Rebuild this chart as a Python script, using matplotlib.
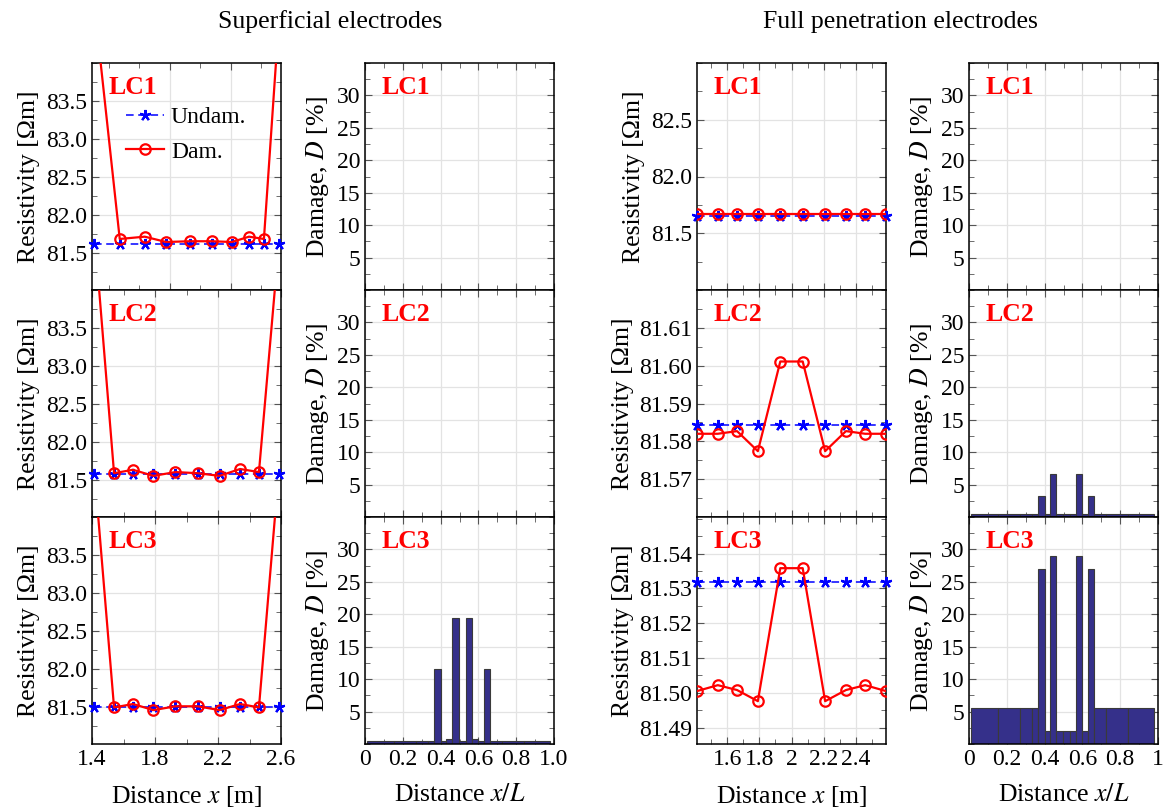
import numpy as np
import matplotlib
matplotlib.use("Agg")
import matplotlib.pyplot as plt
from matplotlib.ticker import MultipleLocator, FixedLocator, FixedFormatter

plt.rcParams['font.family'] = 'serif'
plt.rcParams['font.serif'] = ['Liberation Serif', 'DejaVu Serif']
plt.rcParams['mathtext.fontset'] = 'stix'

# ---- superficial electrodes: resistivity [Ohm m] ----
x_sup_lc1 = [1.303, 1.472, 1.636, 1.777, 1.931, 2.077, 2.208, 2.320, 2.418, 2.516]
undam_sup_lc1 = [81.63, 81.63, 81.63, 81.63, 81.63, 81.63, 81.63, 81.63, 81.63, 81.63]
dam_sup_lc1 = [84.81, 81.69, 81.72, 81.65, 81.66, 81.66, 81.65, 81.72, 81.69, 84.56]

x_el = [1.41, 1.54, 1.66, 1.79, 1.93, 2.07, 2.21, 2.34, 2.46, 2.59]
undam_sup_lc2 = [81.58, 81.58, 81.58, 81.58, 81.58, 81.58, 81.58, 81.58, 81.58, 81.58]
dam_sup_lc2 = [84.9, 81.595, 81.64, 81.56, 81.61, 81.595, 81.56, 81.65, 81.61, 84.7]
undam_sup_lc3 = [81.51, 81.51, 81.51, 81.51, 81.51, 81.51, 81.51, 81.51, 81.51, 81.51]
dam_sup_lc3 = [84.74, 81.50, 81.545, 81.465, 81.515, 81.515, 81.465, 81.545, 81.50, 84.7]

# ---- full penetration electrodes ----
undam_full_lc1 = [81.65, 81.65, 81.65, 81.65, 81.65, 81.65, 81.65, 81.65, 81.65, 81.65]
dam_full_lc1 = [81.668, 81.668, 81.668, 81.668, 81.668, 81.668, 81.668, 81.668, 81.668, 81.668]
undam_full_lc2 = [81.5842, 81.5842, 81.5842, 81.5842, 81.5842, 81.5842, 81.5842, 81.5842, 81.5842, 81.5842]
dam_full_lc2 = [81.582, 81.582, 81.5827, 81.5774, 81.6011, 81.6011, 81.5774, 81.5827, 81.582, 81.582]
undam_full_lc3 = [81.5319, 81.5319, 81.5319, 81.5319, 81.5319, 81.5319, 81.5319, 81.5319, 81.5319, 81.5319]
dam_full_lc3 = [81.5005, 81.5022, 81.5008, 81.4976, 81.5358, 81.5358, 81.4976, 81.5008, 81.5022, 81.5005]

# ---- damage distributions [%] on mesh elements (x/L) ----
mesh_edges = [0.012, 0.153, 0.268, 0.335, 0.365, 0.400, 0.430, 0.461, 0.498,
              0.532, 0.567, 0.600, 0.630, 0.663, 0.727, 0.841, 0.980]
dmg_sup_lc3 = [0.5, 0.5, 0.5, 0.5, 11.6, 0.5, 0.8, 19.4, 0.5, 19.4, 0.8, 0.5, 11.6, 0.5, 0.5, 0.5]
dmg_full_lc2 = [0.4, 0.4, 0.4, 0.4, 3.2, 0.4, 6.6, 0.4, 0.4, 0.4, 6.6, 0.4, 3.2, 0.4, 0.4, 0.4]
dmg_full_lc3 = [5.5, 5.5, 5.5, 5.6, 27.0, 2.0, 29.0, 2.0, 2.0, 2.0, 29.0, 2.0, 27.0, 5.5, 5.5, 5.5]

W, H = 1163, 810
fig = plt.figure(figsize=(W / 100, H / 100), dpi=100)

col_left = [92, 365, 697, 969]
col_w = 189
row_top = [63, 290, 517]
row_h = 227

TICK = 17
LAB = 18.5
BAR_C = '#35308a'


def make_ax(c, r):
    x0 = col_left[c] / W
    y0 = 1 - (row_top[r] + row_h) / H
    ax = fig.add_axes([x0, y0, col_w / W, row_h / H])
    ax.grid(True, which='major', color='#e3e3e3', lw=0.9, zorder=0)
    ax.set_axisbelow(True)
    ax.tick_params(which='both', direction='in', top=True, right=True,
                   color='#555555', labelsize=TICK)
    ax.tick_params(which='major', length=5)
    ax.tick_params(which='minor', length=3.5)
    for s in ax.spines.values():
        s.set_linewidth(1.1)
    return ax


def lc_label(ax, txt):
    ax.text(0.085, 0.89, txt, transform=ax.transAxes, color='red',
            fontsize=18.5, fontweight='bold', va='center', ha='left', zorder=5)


def res_lines(ax, x, und, dam):
    ax.plot(x, und, color='blue', ls=(0, (5, 3)), lw=1.1, marker=(5, 2, 0),
            ms=8, mew=1.6, label='Undam.', zorder=3, clip_on=False)
    ax.plot(x, dam, color='red', lw=1.6, marker='o', ms=7.5, mfc='none',
            mew=1.6, label='Dam.', zorder=4)


# superficial resistivity column
sup_sets = [(x_sup_lc1, undam_sup_lc1, dam_sup_lc1),
            (x_el, undam_sup_lc2, dam_sup_lc2),
            (x_el, undam_sup_lc3, dam_sup_lc3)]
for r in range(3):
    ax = make_ax(0, r)
    x, und, dam = sup_sets[r]
    res_lines(ax, x, und, dam)
    ax.set_ylim(81.02, 84.0)
    ax.yaxis.set_major_locator(FixedLocator([81.5, 82.0, 82.5, 83.0, 83.5]))
    ax.yaxis.set_major_formatter(FixedFormatter(['81.5', '82.0', '82.5', '83.0', '83.5']))
    ax.yaxis.set_minor_locator(MultipleLocator(0.25))
    if r == 0:
        ax.set_xlim(1.29, 2.53)
        ax.xaxis.set_major_locator(FixedLocator([1.8, 2.2]))
    else:
        ax.set_xlim(1.4, 2.6)
        ax.xaxis.set_major_locator(FixedLocator([1.4, 1.8, 2.2, 2.6]))
    ax.xaxis.set_minor_locator(MultipleLocator(0.2))
    ax.set_ylabel('Resistivity [Ωm]', fontsize=LAB)
    if r == 2:
        ax.set_xticklabels(['1.4', '1.8', '2.2', '2.6'])
        ax.set_xlabel('Distance $x$ [m]', fontsize=LAB, labelpad=10)
    else:
        ax.tick_params(labelbottom=False)
    lc_label(ax, 'LC%d' % (r + 1))
    if r == 0:
        ax.legend(loc='upper left', bbox_to_anchor=(0.13, 0.85), frameon=False,
                  fontsize=17, handlelength=1.6, handletextpad=0.3,
                  borderaxespad=0, labelspacing=0.55)

# full penetration resistivity column
full_sets = [(undam_full_lc1, dam_full_lc1, (81.0, 83.0), [81.5, 82.0, 82.5], 0.25, '%.1f'),
             (undam_full_lc2, dam_full_lc2, (81.56, 81.62), [81.57, 81.58, 81.59, 81.60, 81.61], 0.005, '%.2f'),
             (undam_full_lc3, dam_full_lc3, (81.4853, 81.5505), [81.49, 81.50, 81.51, 81.52, 81.53, 81.54], 0.005, '%.2f')]
for r in range(3):
    ax = make_ax(2, r)
    und, dam, yl, yt, ymin, fmt = full_sets[r]
    res_lines(ax, x_el, und, dam)
    ax.set_ylim(*yl)
    ax.yaxis.set_major_locator(FixedLocator(yt))
    ax.yaxis.set_major_formatter(FixedFormatter([fmt % v for v in yt]))
    ax.yaxis.set_minor_locator(MultipleLocator(ymin))
    ax.set_xlim(1.41, 2.59)
    ax.xaxis.set_major_locator(FixedLocator([1.6, 1.8, 2.0, 2.2, 2.4]))
    ax.xaxis.set_minor_locator(MultipleLocator(0.1))
    ax.set_ylabel('Resistivity [Ωm]', fontsize=LAB)
    if r == 2:
        ax.set_xticklabels(['1.6', '1.8', '2', '2.2', '2.4'])
        ax.set_xlabel('Distance $x$ [m]', fontsize=LAB, labelpad=10)
    else:
        ax.tick_params(labelbottom=False)
    lc_label(ax, 'LC%d' % (r + 1))

# damage columns
edges = np.array(mesh_edges)
widths = np.diff(edges)
dmg_cols = {1: [None, None, dmg_sup_lc3], 3: [None, dmg_full_lc2, dmg_full_lc3]}
for c, sets in dmg_cols.items():
    for r in range(3):
        ax = make_ax(c, r)
        if sets[r] is not None:
            ax.bar(edges[:-1], sets[r], width=widths, align='edge',
                   color=BAR_C, edgecolor='#3a3a3a', lw=0.8, zorder=2)
        ax.set_xlim(0, 1)
        ax.set_ylim(0, 35)
        ax.yaxis.set_major_locator(FixedLocator([5, 10, 15, 20, 25, 30]))
        ax.yaxis.set_minor_locator(MultipleLocator(2.5))
        ax.xaxis.set_major_locator(FixedLocator([0, 0.2, 0.4, 0.6, 0.8, 1.0]))
        ax.xaxis.set_minor_locator(MultipleLocator(0.1))
        ax.set_ylabel('Damage, $D$ [%]', fontsize=LAB)
        if r == 2:
            if c == 1:
                ax.set_xticklabels(['0', '0.2', '0.4', '0.6', '0.8', '1.0'])
            else:
                ax.set_xticklabels(['0', '0.2', '0.4', '0.6', '0.8', '1'])
            ax.set_xlabel('Distance $x/L$', fontsize=LAB, labelpad=10)
        else:
            ax.tick_params(labelbottom=False)
        lc_label(ax, 'LC%d' % (r + 1))

fig.text(330 / W, 1 - 22 / H, 'Superficial electrodes', ha='center', va='center', fontsize=18.5)
fig.text(900 / W, 1 - 22 / H, 'Full penetration electrodes', ha='center', va='center', fontsize=18.5)

fig.savefig('out.png', dpi=100)
